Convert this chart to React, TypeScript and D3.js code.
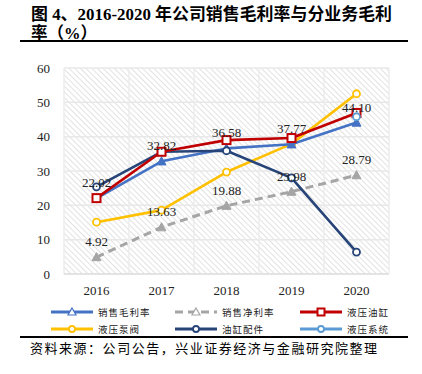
// @ts-nocheck
import React from 'react';
import * as d3 from 'd3';

const years = ['2016', '2017', '2018', '2019', '2020'];
const grossMargin = [22.02, 32.82, 36.58, 37.77, 44.1];
const netMargin = [4.92, 13.63, 19.88, 23.98, 28.79];
const cylinder = [22.1, 35.6, 39.0, 39.6, 46.9];
const pumpValve = [15.1, 18.6, 29.7, 37.9, 52.5];
const cylinderParts = [25.4, 35.6, 35.9, 28.0, 6.4];
const hydraulicSystem = [null, null, null, null, 45.8];
const yTicks = [0, 10, 20, 30, 40, 50, 60];

const series = [
  { name: '销售毛利率', values: grossMargin, color: '#4472C4', marker: 'triangle', labels: true },
  { name: '销售净利率', values: netMargin, color: '#A5A5A5', marker: 'triangle', dash: '8,5', labels: true },
  { name: '液压油缸', values: cylinder, color: '#C00000', marker: 'square' },
  { name: '液压泵阀', values: pumpValve, color: '#FFC000', marker: 'circle' },
  { name: '油缸配件', values: cylinderParts, color: '#264478', marker: 'circle' },
  { name: '液压系统', values: hydraulicSystem, color: '#5B9BD5', marker: 'circle' },
];

const drawOrder = [1, 3, 0, 4, 2, 5];

const serif = '"Liberation Serif", "Times New Roman", serif';
const cjk = '"Liberation Serif", "Noto Sans CJK SC", sans-serif';

function Marker({ type, x, y, color }) {
  if (type === 'square') {
    return <rect x={x - 4} y={y - 4} width={8} height={8} fill="#fff" stroke={color} strokeWidth={2} />;
  }
  if (type === 'triangle') {
    const s = 4.5;
    return <path d={`M${x},${y - s}L${x + s},${y + s * 0.8}L${x - s},${y + s * 0.8}Z`} fill={color} stroke={color} strokeWidth={1} />;
  }
  return <circle cx={x} cy={y} r={3.5} fill="#fff" stroke={color} strokeWidth={1.8} />;
}

export default function App() {
  const W = 422, H = 374;
  const left = 64, right = 389, top = 68, bottom = 274;
  const x = d3.scaleBand().domain(years).range([left, right]);
  const y = d3.scaleLinear().domain([0, 60]).range([bottom, top]);
  const cx = (yr) => x(yr) + x.bandwidth() / 2;

  const line = d3.line()
    .defined((d) => d[1] != null)
    .x((d) => cx(d[0]))
    .y((d) => y(d[1]));

  const legendCols = [51, 175, 300];
  const legendRows = [312, 329];

  return (
    <svg width={W} height={H} style={{ position: 'absolute', left: 0, top: 0, background: '#fff' }}>
      <defs>
        <pattern id="hatch" width="4" height="4" patternUnits="userSpaceOnUse" patternTransform="rotate(-45)">
          <rect width="4" height="4" fill="#fff" />
          <line x1="0" y1="0" x2="0" y2="4" stroke="#e2e2e2" strokeWidth="2" />
        </pattern>
      </defs>

      {/* title */}
      <text x={31} y={20} fontFamily={cjk} fontWeight="bold" fontSize={16.5} fill="#000" textLength={361} lengthAdjust="spacingAndGlyphs">
        图 4、2016-2020 年公司销售毛利率与分业务毛利
      </text>
      <text x={31} y={39} fontFamily={cjk} fontWeight="bold" fontSize={16.5} fill="#000">
        率（%）
      </text>
      <line x1={20} x2={408} y1={41} y2={41} stroke="#000" strokeWidth={2} />

      {/* plot area */}
      <rect x={left} y={top} width={right - left} height={bottom - top} fill="url(#hatch)" />
      {yTicks.map((t) => (
        <line key={'g' + t} x1={left} x2={right} y1={y(t)} y2={y(t)} stroke="#e8e8e8" strokeWidth={1.5} />
      ))}
      {years.map((yr) => (
        <line key={'v' + yr} x1={x(yr)} x2={x(yr)} y1={top} y2={bottom} stroke="#ececec" strokeWidth={1.5} />
      ))}
      <line x1={right} x2={right} y1={top} y2={bottom} stroke="#ececec" strokeWidth={1.5} />
      <line x1={left} x2={right} y1={bottom} y2={bottom} stroke="#d9d9d9" strokeWidth={1} />

      {yTicks.map((t) => (
        <text key={'yt' + t} x={50} y={y(t) + 4.5} textAnchor="end" fontFamily={serif} fontSize={13} fill="#222">{t}</text>
      ))}
      {years.map((yr) => (
        <text key={'xt' + yr} x={cx(yr)} y={295} textAnchor="middle" fontFamily={serif} fontSize={13} fill="#222">{yr}</text>
      ))}

      {drawOrder.map((i) => {
        const s = series[i];
        const pts = years.map((yr, j) => [yr, s.values[j]]);
        return (
          <g key={s.name}>
            <path d={line(pts)} fill="none" stroke={s.color} strokeWidth={s.dash ? 3 : 2.6} strokeDasharray={s.dash} strokeLinejoin="round" />
            {pts.filter((p) => p[1] != null).map((p) => (
              <Marker key={p[0]} type={s.marker} x={cx(p[0])} y={y(p[1])} color={s.color} />
            ))}
          </g>
        );
      })}

      {series.filter((s) => s.labels).map((s) => (
        <g key={'lab' + s.name}>
          {years.map((yr, j) => (
            <text key={yr} x={cx(yr)} y={y(s.values[j]) - 11} textAnchor="middle" fontFamily={serif} fontSize={13} fill="#222">
              {s.values[j].toFixed(2)}
            </text>
          ))}
        </g>
      ))}

      {/* legend */}
      {series.map((s, i) => {
        const lx = legendCols[i % 3];
        const ly = legendRows[Math.floor(i / 3)];
        return (
          <g key={'lg' + s.name}>
            <line x1={lx} x2={lx + 42} y1={ly} y2={ly} stroke={s.color} strokeWidth={3} strokeDasharray={s.dash} />
            {s.marker === 'square'
              ? <rect x={lx + 17.5} y={ly - 3.5} width={7} height={7} fill="#fff" stroke={s.color} strokeWidth={2} />
              : s.marker === 'triangle'
                ? <path d={`M${lx + 21},${ly - 4}L${lx + 25},${ly + 3}L${lx + 17},${ly + 3}Z`} fill="#fff" stroke={s.color} strokeWidth={1.2} />
                : <circle cx={lx + 21} cy={ly} r={3} fill="#fff" stroke={s.color} strokeWidth={1.8} />}
            <text x={lx + 47} y={ly + 3.5} fontFamily={cjk} fontSize={9.5} letterSpacing={1} fill="#222">{s.name}</text>
          </g>
        );
      })}

      <line x1={20} x2={408} y1={337} y2={337} stroke="#000" strokeWidth={2} />
      <text x={30} y={353} fontFamily={cjk} fontSize={13} fill="#000" textLength={347} lengthAdjust="spacing">
        资料来源：公司公告，兴业证券经济与金融研究院整理
      </text>
    </svg>
  );
}
